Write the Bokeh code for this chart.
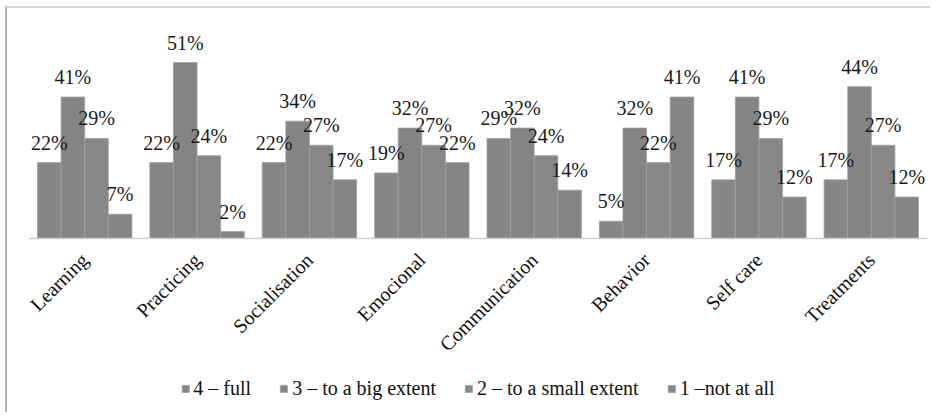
from bokeh.plotting import figure
from bokeh.models import ColumnDataSource, LabelSet, Legend, LegendItem, FactorRange, CategoricalAxis
from bokeh.transform import dodge
from bokeh.embed import file_html
from bokeh.resources import INLINE
import math

categories = ["Learning", "Practicing", "Socialisation", "Emocional",
              "Communication", "Behavior", "Self care", "Treatments"]
full = [22, 22, 22, 19, 29, 5, 17, 17]
big_extent = [41, 51, 34, 32, 32, 32, 41, 44]
small_extent = [29, 24, 27, 27, 24, 22, 29, 27]
not_at_all = [7, 2, 17, 22, 14, 41, 12, 12]
series_names = ["4 – full", "3 – to a big extent", "2 – to a small extent", "1 –not at all"]
series_values = [full, big_extent, small_extent, not_at_all]

colors = ["#868686", "#848484", "#878787", "#858585"]
offsets = [-0.315, -0.105, 0.105, 0.315]
bar_w = 0.21
SERIF = "Liberation Serif"

p = figure(x_range=FactorRange(*categories), y_range=(-49.3, 60),
           frame_width=899, frame_height=377,
           min_border_left=21, min_border_right=3, min_border_top=23, min_border_bottom=4,
           x_axis_location=None, y_axis_location=None, toolbar_location=None, output_backend="svg",
           styles={"margin-left": "5px", "margin-top": "6px",
                   "border-left": "2px solid #b4b4b4", "border-top": "2px solid #d4d4d4"})
p.xgrid.visible = False
p.ygrid.visible = False
p.outline_line_color = None
p.background_fill_color = "white"
p.border_fill_color = "white"

items = []
for name, vals, off, col in zip(series_names, series_values, offsets, colors):
    src = ColumnDataSource(dict(cat=categories, val=vals, lab=[f"{v}%" for v in vals]))
    r = p.vbar(x=dodge("cat", off, range=p.x_range), top="val", bottom=0, width=bar_w, source=src,
               fill_color=col, line_color="#a0a0a0", line_width=0.8)
    items.append(LegendItem(label=name, renderers=[r]))
    lbl = LabelSet(x=dodge("cat", off, range=p.x_range), y="val", text="lab", source=src,
                   text_align="center", text_baseline="alphabetic", y_offset=13,
                   text_font=SERIF, text_font_size="20px", text_color="#1a1a1a")
    p.add_layout(lbl)

ax = CategoricalAxis(fixed_location=0)
ax.axis_line_color = "#d0d0d0"
ax.axis_line_width = 1.5
ax.major_tick_line_color = None
ax.minor_tick_line_color = None
ax.major_label_orientation = math.pi / 4
ax.major_label_standoff = 12
ax.major_label_text_font = SERIF
ax.major_label_text_font_size = "20px"
ax.major_label_text_color = "#111111"
p.add_layout(ax, "below")

legend = Legend(items=items, orientation="horizontal", location="bottom_center",
                border_line_alpha=0, background_fill_alpha=0,
                glyph_width=9, glyph_height=9, label_standoff=4, spacing=28,
                label_text_font=SERIF, label_text_font_size="20px", label_height=22,
                label_text_color="#111111", margin=6, padding=2)
p.add_layout(legend, "center")

open("out.html", "w").write(file_html(p, INLINE))
